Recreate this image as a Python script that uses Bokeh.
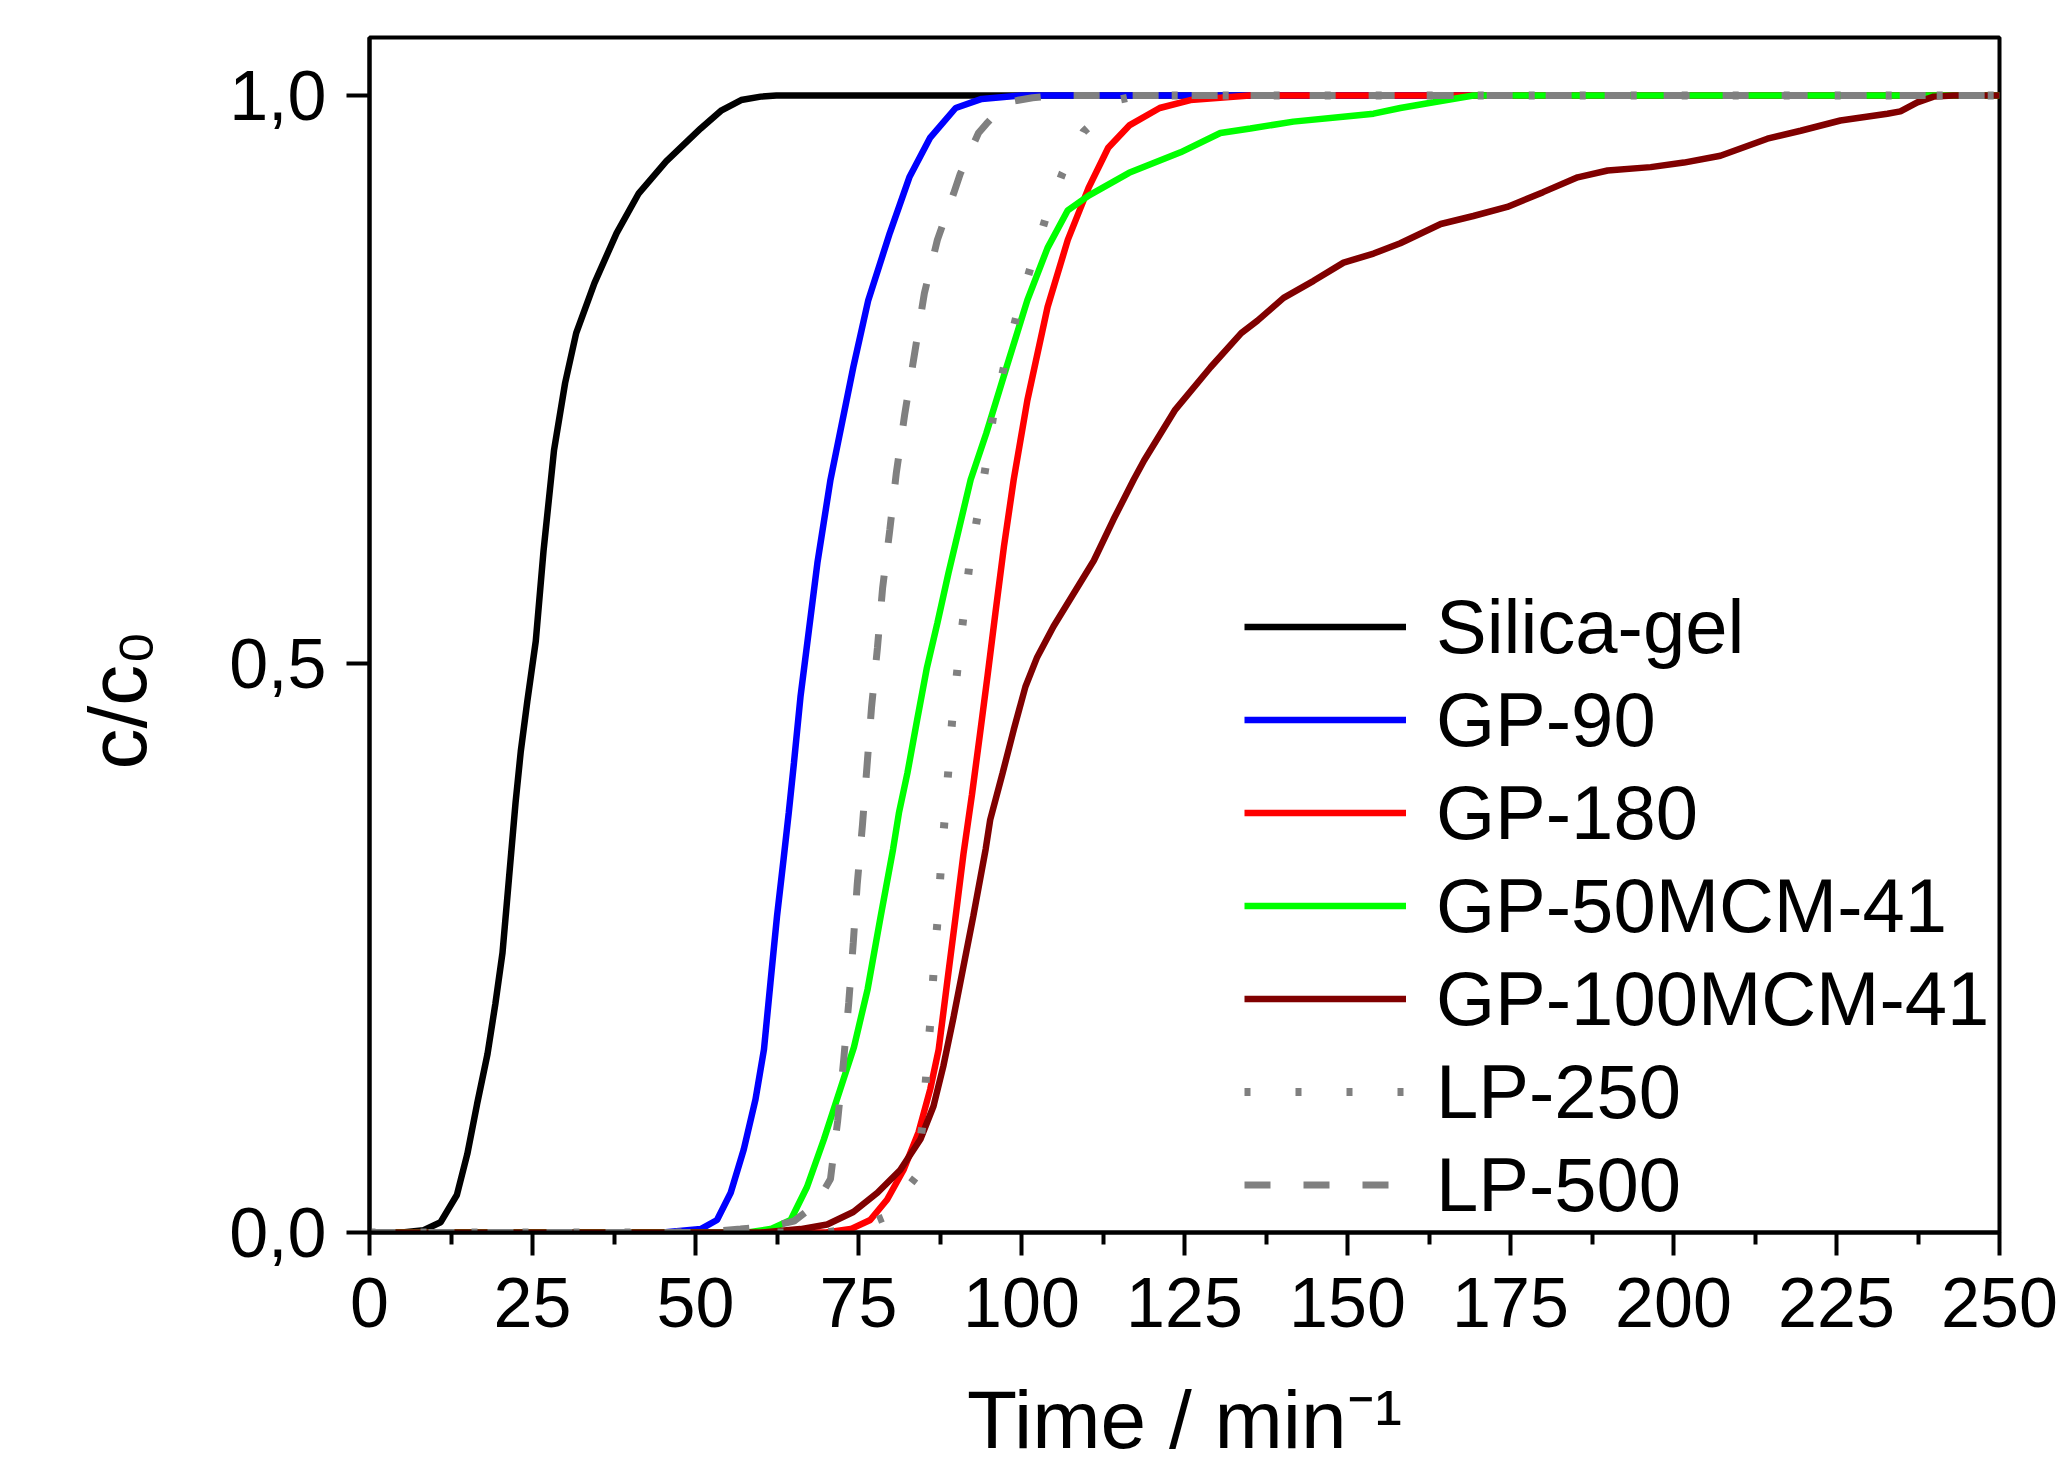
from bokeh.plotting import figure
from bokeh.models import Legend, LegendItem, Title, FixedTicker, CustomJSTickFormatter
from bokeh.embed import file_html
from bokeh.resources import INLINE

# ---------------- data ----------------
series_names = ["Silica-gel", "GP-90", "GP-180", "GP-50MCM-41", "GP-100MCM-41", "LP-250", "LP-500"]

t_silica = [0, 5, 8.3, 10.9, 13.4, 15.0, 16.5, 18.1, 19.3, 20.4, 21.4, 22.4, 23.2, 24.2, 25.5, 26.7,
            28.3, 30.0, 31.7, 34.5, 37.9, 41.3, 45.5, 50.8, 54.0, 57.0, 60.0, 62.4, 100, 150, 200, 250]
c_silica = [0, 0, 0.002, 0.009, 0.033, 0.069, 0.113, 0.157, 0.201, 0.246, 0.312, 0.378, 0.423, 0.467, 0.520, 0.600,
            0.688, 0.747, 0.791, 0.835, 0.879, 0.914, 0.942, 0.971, 0.987, 0.996, 0.999, 1.0, 1.0, 1.0, 1.0, 1.0]

t_gp90 = [0, 45, 50.8, 53.3, 55.4, 57.4, 59.2, 60.5, 61.5, 62.5, 63.5, 64.3, 65.1, 66.1, 67.4, 68.7,
          70.7, 74.2, 76.5, 79.8, 82.8, 86.0, 89.9, 93.9, 100, 250]
c_gp90 = [0, 0, 0.003, 0.011, 0.035, 0.073, 0.117, 0.161, 0.220, 0.278, 0.328, 0.369, 0.413, 0.471, 0.530, 0.589,
          0.662, 0.761, 0.820, 0.879, 0.928, 0.963, 0.989, 0.997, 1.0, 1.0]

t_gp180 = [0, 70, 73.8, 76.8, 79.4, 81.9, 84.2, 86.0, 87.3, 88.6, 89.9, 91.1, 92.4, 93.6, 94.8, 96.0,
           97.3, 98.8, 100.9, 104.0, 107.1, 110.3, 113.3, 116.6, 121.2, 125.9, 135, 250]
c_gp180 = [0, 0, 0.003, 0.011, 0.029, 0.055, 0.088, 0.126, 0.161, 0.220, 0.278, 0.333, 0.385, 0.437, 0.490, 0.545,
           0.603, 0.662, 0.732, 0.814, 0.873, 0.919, 0.954, 0.974, 0.989, 0.996, 1.0, 1.0]

t_gp50 = [0, 58, 61.5, 64.6, 67.1, 69.7, 72.2, 74.3, 76.4, 78.4, 80.3, 81.2, 82.5, 84.0, 85.5, 87.1, 88.8,
          92.2, 94.6, 97.7, 100.9, 104.0, 107.1, 110.3, 116.5, 124.4, 130.5, 135.1, 141.7, 150.5, 154.0,
          158.1, 163.2, 169.3, 250]
c_gp50 = [0, 0, 0.003, 0.011, 0.040, 0.082, 0.126, 0.163, 0.214, 0.278, 0.337, 0.369, 0.404, 0.451, 0.497, 0.536, 0.580,
          0.662, 0.703, 0.761, 0.820, 0.866, 0.899, 0.912, 0.932, 0.950, 0.967, 0.971, 0.977, 0.982, 0.984,
          0.989, 0.994, 1.0, 1.0]

t_gp100 = [0, 60, 66.1, 70.2, 74.2, 77.9, 81.4, 84.5, 86.5, 88.0, 89.6, 91.1, 92.6, 94.5, 95.2, 97.1, 98.8,
           100.6, 102.4, 104.9, 108.0, 111.1, 114.1, 117.2, 118.8, 123.5, 129.0, 133.7, 136.2, 140.2, 144.8,
           149.4, 154.0, 158.1, 164.3, 169.3, 174.5, 180.0, 185.3, 189.9, 196.5, 201.6, 207.2, 214.4, 219.5,
           225.6, 232.8, 234.8, 237.4, 239.9, 242.9, 250]
c_gp100 = [0, 0, 0.003, 0.007, 0.018, 0.035, 0.055, 0.082, 0.111, 0.146, 0.190, 0.234, 0.278, 0.337, 0.363, 0.404, 0.442,
           0.480, 0.506, 0.533, 0.562, 0.591, 0.627, 0.662, 0.679, 0.723, 0.761, 0.791, 0.802, 0.822, 0.837,
           0.853, 0.861, 0.870, 0.887, 0.894, 0.902, 0.915, 0.928, 0.934, 0.937, 0.941, 0.947, 0.962, 0.969,
           0.978, 0.984, 0.986, 0.994, 0.999, 1.0, 1.0]

t_lp250 = [0, 70, 75, 78.8, 83.7, 84.8, 85.4, 86.0, 86.5, 87.1, 87.6, 88.2, 88.8, 89.4, 90.2, 91.1, 92.0,
           93.3, 94.6, 95.7, 97.5, 99.4, 101.5, 103.7, 106.3, 109.5, 114.7, 118, 250]
c_lp250 = [0, 0, 0.004, 0.013, 0.048, 0.094, 0.139, 0.184, 0.228, 0.273, 0.318, 0.363, 0.408, 0.453, 0.497, 0.542, 0.587,
           0.632, 0.677, 0.720, 0.766, 0.810, 0.851, 0.892, 0.932, 0.968, 0.996, 1.0, 1.0]

t_lp500 = [0, 50, 56.9, 62, 65.1, 68.5, 70.7, 71.8, 72.7, 73.5, 74.2, 74.8, 75.6, 76.3, 77.0, 77.9, 78.7,
           79.8, 80.8, 82.1, 83.6, 85.1, 87.1, 89.6, 90.6, 93.4, 94.6, 97.7, 101.7, 105, 250]
c_lp500 = [0, 0, 0.003, 0.006, 0.010, 0.025, 0.047, 0.098, 0.150, 0.202, 0.255, 0.306, 0.358, 0.410, 0.462, 0.514, 0.567,
           0.618, 0.668, 0.720, 0.773, 0.826, 0.873, 0.914, 0.931, 0.967, 0.975, 0.994, 0.998, 1.0, 1.0]

x_ticks = [0, 25, 50, 75, 100, 125, 150, 175, 200, 225, 250]
x_minor_ticks = [12.5, 37.5, 62.5, 87.5, 112.5, 137.5, 162.5, 187.5, 212.5, 237.5]
y_ticks = [0.0, 0.5, 1.0]

x_title = "Time / min\u207b\u00b9"
y_title = "c/c\u2080"

# ---------------- styles ----------------
FONT = "Liberation Sans"
styles = [
    dict(line_color="#000000", line_width=6.5, line_dash="solid"),
    dict(line_color="#0000FF", line_width=6.5, line_dash="solid"),
    dict(line_color="#FF0000", line_width=6.5, line_dash="solid"),
    dict(line_color="#00FF00", line_width=6.5, line_dash="solid"),
    dict(line_color="#800000", line_width=6.5, line_dash="solid"),
    dict(line_color="#808080", line_width=8, line_dash="6 45"),
    dict(line_color="#808080", line_width=7, line_dash="26 33"),
]
data = [(t_silica, c_silica), (t_gp90, c_gp90), (t_gp180, c_gp180), (t_gp50, c_gp50),
        (t_gp100, c_gp100), (t_lp250, c_lp250), (t_lp500, c_lp500)]

p = figure(width=2060, height=1467, x_range=(0, 250), y_range=(0, 1.051),
           output_backend="svg", toolbar_location=None,
           min_border_left=369, min_border_right=61, min_border_top=37, min_border_bottom=234)
p.background_fill_color = "white"
p.border_fill_color = "white"
p.xgrid.visible = False
p.ygrid.visible = False
p.outline_line_color = "black"
p.outline_line_width = 4
p.outline_line_alpha = 1.0

for ax in (p.xaxis[0], p.yaxis[0]):
    ax.axis_line_width = 4
    ax.axis_line_color = "black"
    ax.major_tick_line_width = 4
    ax.minor_tick_line_width = 4
    ax.major_tick_out = 23
    ax.major_tick_in = 0
    ax.minor_tick_out = 12
    ax.minor_tick_in = 0
    ax.major_label_text_font = FONT
    ax.major_label_text_font_size = "70px"
    ax.major_label_text_color = "black"

p.xaxis[0].ticker = FixedTicker(ticks=x_ticks, minor_ticks=x_minor_ticks)
p.yaxis[0].ticker = FixedTicker(ticks=y_ticks, minor_ticks=[])
p.xaxis[0].major_label_standoff = 22
p.yaxis[0].major_label_standoff = 20
p.yaxis[0].formatter = CustomJSTickFormatter(code="return tick.toFixed(1).replace('.', ',');")

# x-axis title as the axis' own label
p.xaxis[0].axis_label = x_title
p.xaxis[0].axis_label_standoff = 44
p.xaxis[0].axis_label_text_font = FONT
p.xaxis[0].axis_label_text_font_size = "82px"
p.xaxis[0].axis_label_text_font_style = "normal"
p.xaxis[0].axis_label_text_color = "black"

items = []
for name, (tx, cy), st in zip(series_names, data, styles):
    r = p.line(tx, cy, **st)
    items.append(LegendItem(label=name, renderers=[r]))

legend = Legend(items=items, location=(875, 1), orientation="vertical",
                border_line_alpha=0, background_fill_alpha=0, padding=0, margin=0, spacing=0,
                glyph_width=162, glyph_height=93, label_height=93, label_standoff=30,
                label_text_font=FONT, label_text_font_size="76px", label_text_color="black")
p.add_layout(legend)

# y-axis title in the left panel (starts low, like the reference)
p.add_layout(Title(text=y_title, align="left", offset=463, standoff=128,
                   text_font=FONT, text_font_size="82px", text_font_style="normal",
                   text_color="black"), "left")

open("out.html", "w").write(file_html(p, INLINE))
